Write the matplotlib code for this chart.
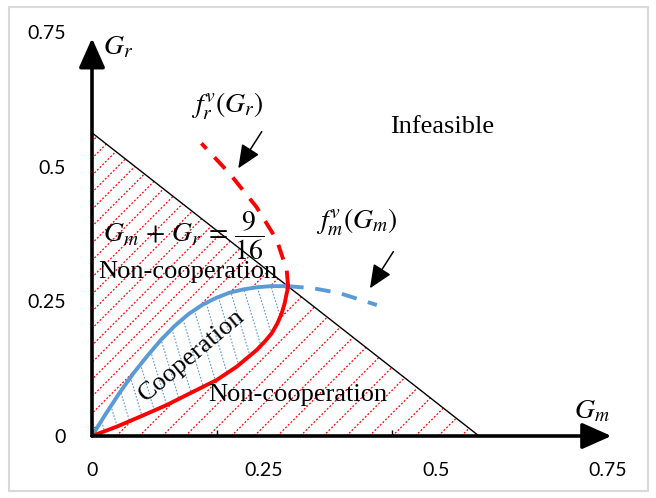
import numpy as np
import matplotlib
matplotlib.use('Agg')
import matplotlib.pyplot as plt
from matplotlib.path import Path
from matplotlib.patches import PathPatch, Rectangle, FancyArrowPatch
from matplotlib.collections import LineCollection

plt.rcParams['mathtext.fontset'] = 'stix'

# ---------------- data ----------------
budget = 9 / 16
blue_solid_gm = [0.0, 0.02, 0.04, 0.06, 0.08, 0.10, 0.12, 0.14, 0.16, 0.18, 0.20, 0.22, 0.24, 0.26, 0.285]
blue_solid_gr = [0.0, 0.041, 0.080, 0.116, 0.148, 0.178, 0.204, 0.226, 0.243, 0.256, 0.266, 0.272, 0.276, 0.278, 0.278]
blue_dash_gm = [0.285, 0.322, 0.36, 0.414]
blue_dash_gr = [0.278, 0.274, 0.265, 0.243]
red_solid_gm = [0.0, 0.0359, 0.0698, 0.1086, 0.1424, 0.1812, 0.2103, 0.2394, 0.251, 0.2612, 0.2695,
                0.2757, 0.280, 0.283, 0.2844, 0.285]
red_solid_gr = [0.0, 0.0173, 0.0358, 0.0575, 0.0792, 0.1039, 0.1286, 0.1596, 0.175, 0.1905, 0.209,
                0.2276, 0.246, 0.2647, 0.272, 0.278]
red_dash_gm = [0.285, 0.283, 0.2685, 0.239, 0.2, 0.159]
red_dash_gr = [0.278, 0.308, 0.364, 0.425, 0.487, 0.543]
tick_values = [0, 0.25, 0.5, 0.75]
tick_labels = ['0', '0.25', '0.5', '0.75']

RED = '#FF0000'
BLUE = '#5B9BD5'

W, H = 656, 498
fig = plt.figure(figsize=(W / 100, H / 100), dpi=100)
# axes: data 0..0.75 -> x px 92..608 ; y px 436..31.75
ax = fig.add_axes([92 / W, (H - 436) / H, 516 / W, 404.25 / H])
ax.set_xlim(0, 0.75)
ax.set_ylim(0, 0.75)
for s in ax.spines.values():
    s.set_visible(False)
ax.set_xticks(tick_values, tick_labels)
ax.set_yticks(tick_values, tick_labels)
ax.tick_params(length=0, labelsize=14, pad=19)
for lab in ax.get_xticklabels() + ax.get_yticklabels():
    lab.set_fontfamily('Lato')

# figure border
fig.patches.append(Rectangle((9 / W, 7 / H), 639 / W, 484 / H, transform=fig.transFigure,
                             fill=False, edgecolor='#d9d9d9', linewidth=1.5))

# regions for hatching
upper_poly = [(0, 0)] + list(zip(blue_solid_gm, blue_solid_gr)) + [(0, budget)]
lower_poly = list(zip(red_solid_gm, red_solid_gr)) + [(budget, 0)]
lens_poly = list(zip(blue_solid_gm, blue_solid_gr)) + list(zip(red_solid_gm[::-1], red_solid_gr[::-1]))

xs_px, ys_px = 688.0, 539.0
k = xs_px / ys_px  # 45 degrees in pixels


def red_hatch(poly, spacing_px):
    patch = PathPatch(Path(poly + [poly[0]]), transform=ax.transData, facecolor='none', edgecolor='none')
    ax.add_patch(patch)
    step = spacing_px / xs_px
    segs = [[(c0, 0), (c0 + 0.8 / k, 0.8)] for c0 in np.arange(-0.7, 0.7, step)]
    lc = LineCollection(segs, colors=RED, linewidths=0.9, linestyles=(0, (1.5, 1.5)))
    lc.set_clip_path(patch)
    ax.add_collection(lc)


red_hatch(upper_poly, 17)
red_hatch(lower_poly, 23)

lens_patch = PathPatch(Path(lens_poly + [lens_poly[0]]), transform=ax.transData, facecolor='none', edgecolor='none')
ax.add_patch(lens_patch)
step_b = 14 / xs_px
segsb = [[(c, 0.0), (c - 0.235 * 0.4, 0.4)] for c in np.arange(0.0, 0.5, step_b)]
lcb = LineCollection(segsb, colors=BLUE, linewidths=0.8, linestyles=(0, (1.5, 1.5)))
lcb.set_clip_path(lens_patch)
ax.add_collection(lcb)

# budget line
ax.plot([0, budget], [budget, 0], color='black', lw=1.0, zorder=3)

# curves
ax.plot(blue_solid_gm, blue_solid_gr, color=BLUE, lw=2.8, solid_capstyle='round',
        solid_joinstyle='round', zorder=4)
ax.plot(blue_dash_gm, blue_dash_gr, color=BLUE, lw=2.8, dashes=(4, 3), zorder=4)
ax.plot(red_solid_gm, red_solid_gr, color=RED, lw=2.8, solid_capstyle='round',
        solid_joinstyle='round', zorder=5)
ax.plot(red_dash_gm, red_dash_gr, color=RED, lw=2.8, dashes=(4, 3), zorder=5)

# axes arrows
for start, end in [((0, 0), (0.755, 0)), ((0, 0), (0, 0.738))]:
    ax.add_patch(FancyArrowPatch(start, end, arrowstyle='-|>,head_length=0.9,head_width=0.4',
                                 mutation_scale=20, lw=2.6, color='black', clip_on=False, zorder=6,
                                 shrinkA=0, shrinkB=0))
# small ticks on x axis
ax.vlines([0.182, 0.436], 0, 0.012, color='black', lw=1, zorder=6)

# annotation arrows
ax.annotate('', xy=(0.2126, 0.4966), xytext=(0.2467, 0.5646),
            arrowprops=dict(arrowstyle='-|>,head_length=0.8,head_width=0.35', mutation_scale=18,
                            lw=1.1, color='black', shrinkA=0, shrinkB=0))
ax.annotate('', xy=(0.404, 0.274), xytext=(0.438, 0.342),
            arrowprops=dict(arrowstyle='-|>,head_length=0.8,head_width=0.35', mutation_scale=18,
                            lw=1.1, color='black', shrinkA=0, shrinkB=0))

serif = 'Liberation Serif'
ax.text(0.509, 0.573, 'Infeasible', fontsize=19, family=serif, ha='center', va='center')
ax.text(0.1395, 0.304, 'Non-cooperation', fontsize=19, family=serif, ha='center', va='center', zorder=7)
ax.text(0.2994, 0.076, 'Non-cooperation', fontsize=19, family=serif, ha='center', va='center', zorder=7)
ax.text(0.1446, 0.150, 'Cooperation', fontsize=19, family=serif, ha='center', va='center',
        rotation=40, rotation_mode='anchor', zorder=7)
ax.text(0.038, 0.722, r'$G_r$', fontsize=20, ha='center', va='center')
ax.text(0.727, 0.048, r'$G_m$', fontsize=20, ha='center', va='center', clip_on=False)
ax.text(0.197, 0.612, r'$f_r^v(G_r)$', fontsize=20, ha='center', va='center')
ax.text(0.385, 0.397, r'$f_m^v(G_m)$', fontsize=20, ha='center', va='center')
ax.text(0.133, 0.372, r'$G_m\,+\,G_r\,=\,\dfrac{9}{16}$', fontsize=20, ha='center', va='center', zorder=7)

fig.savefig('out.png', dpi=100)
